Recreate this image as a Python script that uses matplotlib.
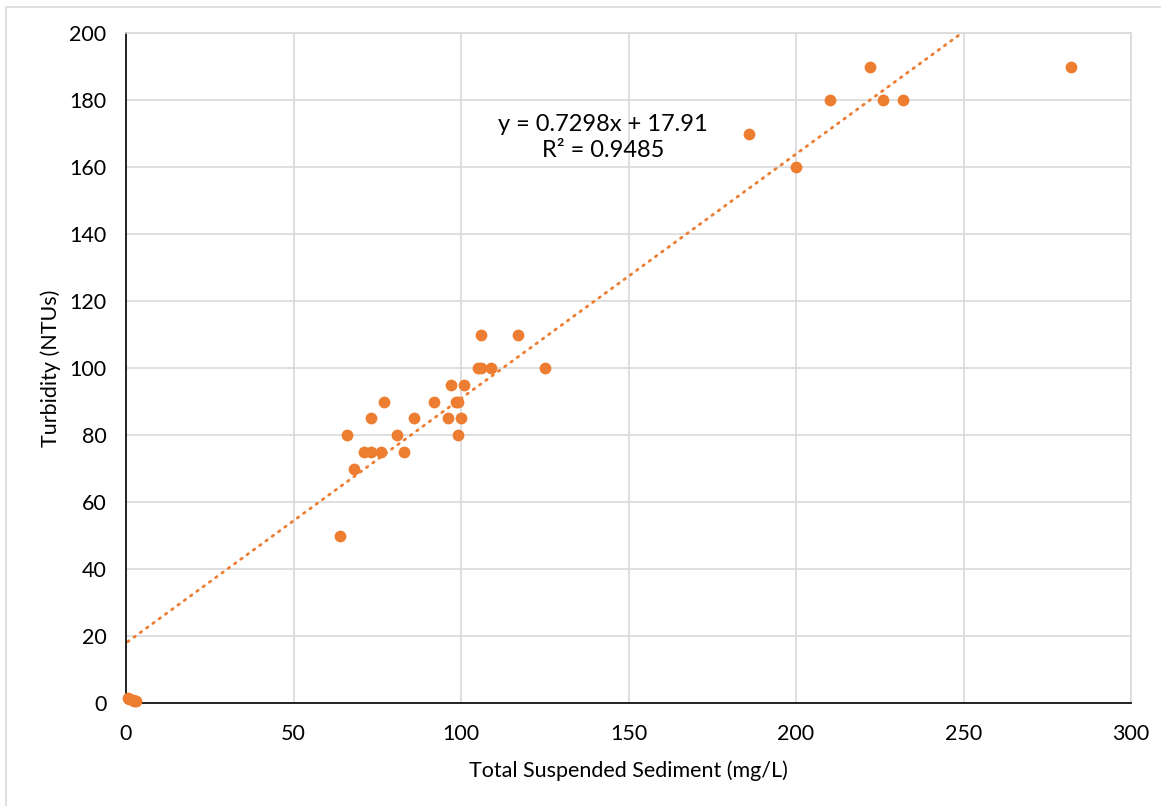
import matplotlib
matplotlib.use("Agg")
import matplotlib.pyplot as plt
import numpy as np
from matplotlib.patches import Rectangle

# data
tss = [0.5, 1, 2, 2.5, 3,
       64, 66, 68, 71, 73, 73, 76, 77, 81, 83, 86, 92, 96, 97, 98.5, 99, 99,
       100, 101, 105, 106, 106, 109, 117, 125,
       186, 200, 210, 222, 226, 232, 282]
turb = [1.5, 1.2, 1, 0.6, 0.5,
        50, 80, 70, 75, 85, 75, 75, 90, 80, 75, 85, 90, 85, 95, 90, 90, 80,
        85, 95, 100, 110, 100, 100, 110, 100,
        170, 160, 180, 190, 180, 180, 190]
slope = 0.7298
intercept = 17.91
r2 = 0.9485

orange = "#ED7D31"
plt.rcParams["font.family"] = ["Lato", "DejaVu Sans"]

fig = plt.figure(figsize=(11.61, 8.06), dpi=100)
W, H = 1161, 806
ax = fig.add_axes([126 / W, 1 - 703 / H, (1131 - 126) / W, (703 - 33) / H])

# chart area border
fig.patches.append(Rectangle((6 / W, -0.05), 1.2, 1 - 7 / H + 0.05,
                             transform=fig.transFigure, fill=False,
                             edgecolor="#D9D9D9", lw=1.2))

xs = np.array([min(tss), max(tss)])
ax.plot(xs, slope * xs + intercept, color=orange, lw=2,
        linestyle=(0, (0.6, 2.2)), dash_capstyle="round", zorder=2)
ax.scatter(tss, turb, s=72, color=orange, zorder=3, linewidths=0, clip_on=False)

ax.set_xlim(0, 300)
ax.set_ylim(0, 200)
ax.set_xticks(np.arange(0, 301, 50))
ax.set_yticks(np.arange(0, 201, 20))
ax.grid(True, color="#D9D9D9", lw=1.2)
ax.set_axisbelow(True)
ax.tick_params(length=0, labelsize=15.5)
ax.tick_params(axis="x", pad=15)
ax.tick_params(axis="y", pad=14)
for s in ["top", "right"]:
    ax.spines[s].set_color("#D9D9D9")
    ax.spines[s].set_linewidth(1.2)
for s in ["left", "bottom"]:
    ax.spines[s].set_color("black")
    ax.spines[s].set_linewidth(1.2)

ax.set_xlabel("Total Suspended Sediment (mg/L)", fontsize=15.5, labelpad=12)
ax.set_ylabel("Turbidity (NTUs)", fontsize=15.5, labelpad=6)

ax.text(142.4, 168.8, "y = %.4fx + %.2f\nR² = %.4f" % (slope, intercept, r2),
        ha="center", va="center", fontsize=17, linespacing=1.3)

fig.savefig("out.png", dpi=100)
